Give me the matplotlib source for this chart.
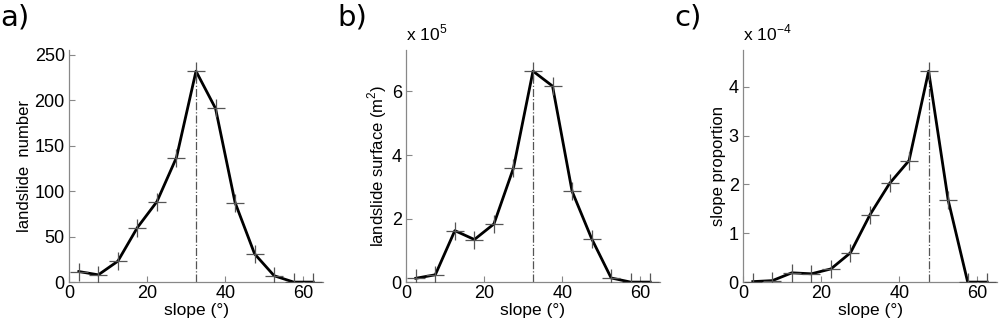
import matplotlib
matplotlib.use("Agg")
import matplotlib.pyplot as plt
import numpy as np

# slope class centres (degrees)
slope = [2.5, 7.5, 12.5, 17.5, 22.5, 27.5, 32.5, 37.5, 42.5, 47.5, 52.5, 57.5, 62.5]

# a) landslide number per slope class
landslide_number = [11.6, 8, 23, 60, 88.5, 137, 232, 191, 87.5, 31, 7, 0, 0]

# b) landslide surface per slope class (x 1e5 m2)
landslide_surface = [0.12, 0.23, 1.62, 1.34, 1.83, 3.59, 6.64, 6.17, 2.86, 1.37, 0.13, 0, 0]

# c) slope proportion per slope class (x 1e-4)
slope_proportion = [0.01, 0.03, 0.19, 0.17, 0.27, 0.6, 1.38, 2.02, 2.49, 4.32, 1.68, 0, 0]

panel_letters = ["a)", "b)", "c)"]
ylabels = ["landslide  number", "landslide surface (m$^2$)", "slope proportion"]
multipliers = [None, r"x 10$^{5}$", r"x 10$^{-4}$"]
yticks = [[0, 50, 100, 150, 200, 250], [0, 2, 4, 6], [0, 1, 2, 3, 4]]
series = [landslide_number, landslide_surface, slope_proportion]

plt.rcParams['font.family'] = ['Liberation Sans', 'DejaVu Sans']
plt.rcParams['mathtext.fontset'] = 'custom'
plt.rcParams['mathtext.rm'] = 'Liberation Sans'

fig = plt.figure(figsize=(10, 3.25), dpi=100)
lefts = [0.069, 0.406, 0.743]
gray = "#555555"

for i in range(3):
    ax = fig.add_axes([lefts[i], 0.132, 0.254, 0.714])
    y = np.array(series[i])
    ipk = int(np.argmax(y))
    ax.plot([slope[ipk], slope[ipk]], [0, y[ipk]], linestyle='-.', color=gray, linewidth=0.9)
    ax.plot(slope, y, color='black', linewidth=2.0, zorder=3)
    ax.plot(slope, y, linestyle='none', marker='+', markersize=13, markeredgewidth=0.9,
            color=gray, zorder=4)
    ax.set_xlim(0, 65)
    ax.set_ylim(0, y.max() * 1.1)
    ax.set_xticks([0, 20, 40, 60])
    ax.set_yticks(yticks[i])
    for s in ['top', 'right']:
        ax.spines[s].set_visible(False)
    for s in ['left', 'bottom']:
        ax.spines[s].set_color('#888888')
        ax.spines[s].set_linewidth(0.9)
    ax.tick_params(direction='in', length=4, width=0.8, color='#888888',
                   labelsize=13)
    ax.tick_params(axis='x', pad=2)
    ax.tick_params(axis='y', pad=3)
    ax.set_xlabel("slope (°)", fontsize=12.5, labelpad=0.5)
    ax.set_ylabel(ylabels[i], fontsize=12, labelpad=2)
    fig.text(lefts[i] - 0.069, 0.99, panel_letters[i], fontsize=21,
             family='DejaVu Sans', va='top', ha='left')
    if multipliers[i]:
        ax.text(0.0, 1.03, multipliers[i], transform=ax.transAxes, fontsize=12.5,
                ha='left', va='bottom')

fig.savefig("out.png", dpi=100)
